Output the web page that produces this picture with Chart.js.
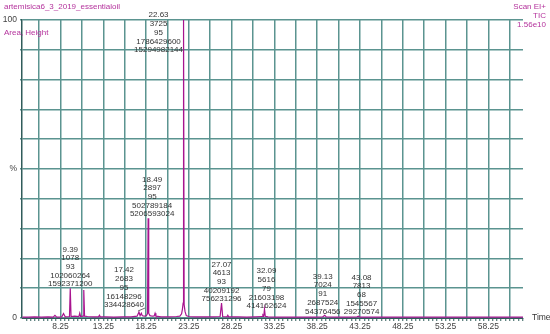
<!DOCTYPE html>
<html>
<head>
<meta charset="utf-8">
<script src="https://cdn.jsdelivr.net/npm/chart.js@4.4.1/dist/chart.umd.min.js"></script>
<style>
  html, body { margin: 0; padding: 0; background: #fff; }
  #wrap { width: 550px; height: 334px; position: relative; }
</style>
</head>
<body>
<div id="wrap"><canvas id="tic"></canvas></div>
<script>
// ── TIC trace (time in min, % of full scale) ──
const times = [
  3.8, 4.5, 5.2, 6.0, 6.8, 7.4, 7.6, 7.8, 8.4, 8.6, 8.8, 9.3, 9.39, 9.48,
  9.9, 10.4, 10.5, 10.6, 10.88, 10.97, 11.06, 11.4, 12.0, 12.7, 12.8, 12.9,
  13.5, 14.5, 15.5, 16.5, 17.2, 17.42, 17.55, 17.7, 17.8, 17.9, 18.1, 18.3,
  18.42, 18.49, 18.56, 18.7, 19.0, 19.2, 19.3, 19.4, 20.0, 21.0, 21.8, 22.2,
  22.4, 22.5, 22.58, 22.63, 22.7, 22.8, 22.95, 23.2, 24.0, 25.0, 26.0, 26.9,
  27.07, 27.2, 27.7, 27.8, 27.9, 29.0, 30.0, 31.0, 31.8, 31.9, 32.0, 32.09,
  32.18, 32.5, 33.5, 35.0, 36.5, 38.0, 38.9, 39.13, 39.3, 40.5, 42.0, 42.9,
  43.08, 43.2, 45.0, 48.0, 51.0, 54.0, 57.0, 60.0, 62.3
];
const tic = [
  0.3, 0.3, 0.4, 0.3, 0.4, 0.3, 0.9, 0.3, 0.4, 1.5, 0.4, 0.5, 10.0, 0.5,
  0.6, 0.5, 1.6, 0.5, 0.6, 9.4, 0.6, 0.5, 0.4, 0.4, 0.9, 0.4,
  0.4, 0.3, 0.4, 0.4, 0.6, 2.0, 0.8, 1.6, 0.8, 0.7, 0.6, 0.8,
  1.5, 33.5, 1.6, 0.8, 0.6, 0.7, 1.6, 0.6, 0.4, 0.4, 0.5, 0.6,
  1.4, 3.0, 5.0, 100, 4.5, 2.2, 0.8, 0.5, 0.4, 0.4, 0.4, 0.5,
  5.0, 0.5, 0.4, 0.9, 0.4, 0.4, 0.3, 0.4, 0.5, 1.0, 0.6, 3.0,
  0.6, 0.4, 0.3, 0.3, 0.3, 0.3, 0.4, 0.9, 0.4, 0.3, 0.3, 0.4,
  0.6, 0.3, 0.3, 0.3, 0.3, 0.3, 0.3, 0.3, 0.3
];

// ── Peak annotations: time / scan / base peak / height / area ──
const peakTimes   = ['22.63', '18.49', '9.39', '17.42', '27.07', '32.09', '39.13', '43.08'];
const peakScans   = ['3725', '2897', '1078', '2683', '4613', '5616', '7024', '7813'];
const peakBase    = ['95', '95', '93', '95', '93', '79', '91', '68'];
const peakHeights = ['1786429600', '502789184', '102060264', '16148296', '40209192', '21603198', '2687524', '1545567'];
const peakAreas   = ['15294982144', '5206593024', '1592371200', '334428640', '756231296', '414162624', '54376456', '29270574'];

// ── Axis labels ──
const xTickLabels = ['8.25', '13.25', '18.25', '23.25', '28.25', '33.25', '38.25', '43.25', '48.25', '53.25', '58.25'];
const yTickValues = [0, 50, 100];
const yTickText   = ['0', '%', '100'];

const trace   = '#a8148f';
const magenta = '#b4329c';
const gridCol = '#5b9490';
const axisCol = '#2f5c5a';
const textCol = '#333333';
const font    = 'Arial, "Liberation Sans", sans-serif';

// nudges for labels that MassLynx moved off their peak (px)
const labelNudge = {
  '22.63': { dx: -25, dy: 34 },
  '18.49': { dx: 4, dy: 0 },
  '17.42': { dx: -15, dy: -3, leader: true },
  '32.09': { dx: 2, dy: 1 },
  '39.13': { dx: -2, dy: 0 },
  '43.08': { dx: 3, dy: 0 },
};

const points = times.map((t, i) => ({ x: t, y: tic[i] }));

const textPlugin = {
  id: 'massLynxText',
  afterDraw(chart) {
    const ctx = chart.ctx;
    const xs = chart.scales.x, ys = chart.scales.y;
    ctx.save();
    ctx.textBaseline = 'middle';

    // header
    ctx.font = `8px ${font}`;
    ctx.fillStyle = magenta;
    ctx.textAlign = 'left';
    ctx.fillText('artemisica6_3_2019_essentialoil', 4, 7);
    ctx.fillText('Area, Height', 4, 33);
    ctx.textAlign = 'right';
    ctx.fillText('Scan EI+', 546, 7);
    ctx.fillText('TIC', 546, 15.5);
    ctx.fillText('1.56e10', 546, 24.5);

    // axis title
    ctx.fillStyle = textCol;
    ctx.textAlign = 'left';
    ctx.font = `8.5px ${font}`;
    ctx.fillText('Time', 532, 318);

    // peak labels
    ctx.font = `8px ${font}`;
    ctx.textAlign = 'center';
    const lh = 8.7;
    peakTimes.forEach((pt, k) => {
      const t = parseFloat(pt);
      let idx = 0;
      times.forEach((tt, i) => { if (Math.abs(tt - t) < Math.abs(times[idx] - t)) idx = i; });
      const px = xs.getPixelForValue(t);
      const py = ys.getPixelForValue(tic[idx]);
      const n = labelNudge[pt] || { dx: 0, dy: 0 };
      const cx = px + n.dx;
      const by = py - 4 + n.dy;
      const lines = [pt, peakScans[k], peakBase[k], peakHeights[k], peakAreas[k]];
      lines.forEach((s, j) => {
        ctx.fillText(s, cx, by - (lines.length - 1 - j) * lh);
      });
      if (n.leader) {
        ctx.strokeStyle = textCol;
        ctx.lineWidth = 0.7;
        ctx.beginPath();
        ctx.moveTo(cx + 21, by + 3);
        ctx.lineTo(px - 1, py - 1);
        ctx.stroke();
      }
    });
    ctx.restore();
  }
};

new Chart(document.getElementById('tic'), {
  type: 'line',
  data: {
    datasets: [{
      data: points,
      borderColor: trace,
      borderWidth: 1.2,
      pointRadius: 0,
      tension: 0,
      fill: false,
    }]
  },
  options: {
    responsive: true,
    maintainAspectRatio: false,
    animation: false,
    parsing: false,
    clip: false,
    layout: { padding: { top: 20, right: 27, left: 0, bottom: 0 } },
    plugins: { legend: { display: false }, tooltip: { enabled: false } },
    scales: {
      x: {
        type: 'linear',
        min: 3.75,
        max: 62.3,
        afterBuildTicks(scale) {
          const ticks = [];
          for (let v = 4.25; v <= 62.3; v += 0.5) ticks.push({ value: Math.round(v * 100) / 100 });
          scale.ticks = ticks;
        },
        afterFit(scale) { scale.height = 16; },
        border: { display: true, color: axisCol, width: 1 },
        grid: {
          drawTicks: true,
          tickLength: 3,
          lineWidth: 1.5,
          color(c) {
            const v = c.tick ? c.tick.value : 0;
            const k = (v - 5.75) / 2.5;
            return Math.abs(k - Math.round(k)) < 1e-6 ? gridCol : 'rgba(0,0,0,0)';
          },
          tickColor: axisCol,
          tickWidth: 1,
        },
        ticks: {
          autoSkip: false,
          maxRotation: 0,
          padding: 1,
          color: '#444',
          font: { size: 8.5, family: font },
          callback(v) {
            const s = Number(v).toFixed(2);
            return xTickLabels.includes(s) ? s : '';
          },
        },
      },
      y: {
        min: 0,
        max: 100,
        afterFit(scale) { scale.width = 22; },
        border: { display: true, color: axisCol, width: 1.5 },
        grid: {
          color: gridCol,
          lineWidth: 1.5,
          drawTicks: true,
          tickLength: 2,
          tickColor: gridCol,
        },
        ticks: {
          stepSize: 10,
          padding: 3,
          color: '#444',
          font: { size: 8.5, family: font },
          callback(v) {
            const i = yTickValues.indexOf(v);
            return i >= 0 ? yTickText[i] : '';
          },
        },
      },
    },
  },
  plugins: [textPlugin],
});
</script>
</body>
</html>
